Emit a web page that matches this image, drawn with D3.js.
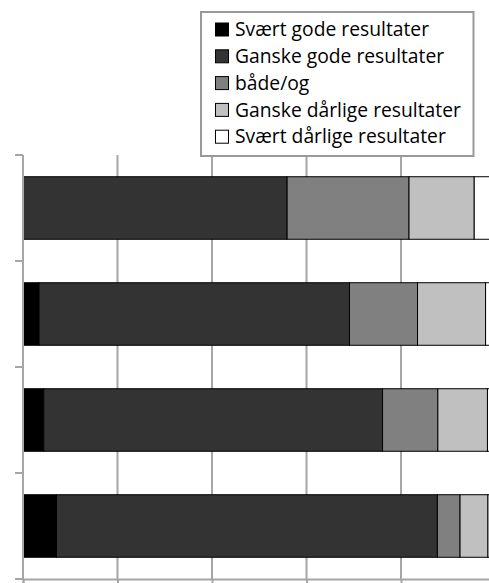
<!DOCTYPE html>
<html>
<head>
<meta charset="utf-8">
<script src="https://cdn.jsdelivr.net/npm/d3@7"></script>
<style>
  html, body { margin: 0; padding: 0; background: #fff; }
  svg { display: block; }
</style>
</head>
<body>
<div id="chart"></div>
<script>
// ---- data ----
const categories = ["Gruppe 1", "Gruppe 2", "Gruppe 3", "Gruppe 4"];
const seriesNames = ["Svært gode resultater", "Ganske gode resultater", "både/og", "Ganske dårlige resultater", "Svært dårlige resultater"];
const svaertGode      = [0,    3.4,  4.4,  7.1];
const ganskeGode      = [55.9, 65.7, 71.7, 80.6];
const baadeOg         = [25.8, 14.4, 11.7, 4.8];
const ganskeDaarlige  = [13.8, 14.4, 10.5, 5.9];
const svaertDaarlige  = [4.5,  2.1,  1.7,  1.6];
const xTicks = [0, 20, 40, 60, 80, 100];
const seriesColors = ["#000000", "#333333", "#808080", "#c0c0c0", "#ffffff"];

const seriesValues = [svaertGode, ganskeGode, baadeOg, ganskeDaarlige, svaertDaarlige];
const table = categories.map((c, i) => {
  const row = { cat: c };
  seriesNames.forEach((s, j) => row[s] = seriesValues[j][i]);
  return row;
});

// ---- layout ----
const W = 489, H = 583;
const svg = d3.select("#chart").append("svg").attr("width", W).attr("height", H);

const x = d3.scaleLinear().domain([0, 100]).range([23, 495.5]);
const y = d3.scaleBand().domain(categories).range([155, 579]).paddingInner(0.41).paddingOuter(0.205);
const color = d3.scaleOrdinal().domain(seriesNames).range(seriesColors);

const gridColor = "#a6a6a6";

// gridlines
svg.append("g").selectAll("line").data(xTicks.slice(1)).join("line")
  .attr("x1", d => x(d)).attr("x2", d => x(d))
  .attr("y1", 155).attr("y2", 579)
  .attr("stroke", gridColor).attr("stroke-width", 2);

// x axis (bottom)
const xAxis = svg.append("g").attr("transform", "translate(0,579)")
  .call(d3.axisBottom(x).tickValues(xTicks).tickSize(5).tickFormat(""));
xAxis.select(".domain").attr("stroke", gridColor).attr("stroke-width", 2);
xAxis.selectAll(".tick line").attr("stroke", gridColor).attr("stroke-width", 2);

// bars
const stack = d3.stack().keys(seriesNames);
const stacked = stack(table);
svg.append("g").selectAll("g").data(stacked).join("g")
  .attr("fill", d => color(d.key))
  .selectAll("rect").data(d => d).join("rect")
  .attr("x", d => x(d[0]))
  .attr("width", d => Math.max(0, x(d[1]) - x(d[0])))
  .attr("y", d => y(d.data.cat))
  .attr("height", y.bandwidth())
  .attr("stroke", "#000").attr("stroke-width", 1);

// y axis (left)
const yAxis = svg.append("g").attr("transform", "translate(23,0)")
  .call(d3.axisLeft(y).tickSize(0).tickFormat(""));
yAxis.select(".domain").remove();
const yBounds = [155].concat(categories.map(c => y(c) - y.step() * y.paddingInner() / 2).slice(1)).concat([579]);
yAxis.append("line").attr("x1", 0).attr("x2", 0).attr("y1", 155).attr("y2", 579)
  .attr("stroke", gridColor).attr("stroke-width", 2);
yAxis.selectAll("line.tk").data(yBounds).join("line").attr("class", "tk")
  .attr("x1", -8).attr("x2", 0).attr("y1", d => d).attr("y2", d => d)
  .attr("stroke", gridColor).attr("stroke-width", 2);

// legend
const lg = svg.append("g");
lg.append("rect").attr("x", 201).attr("y", 12).attr("width", 272.5).attr("height", 144)
  .attr("fill", "#fff").attr("stroke", "#999").attr("stroke-width", 2);
const rowH = 26.8;
const items = lg.selectAll("g.item").data(seriesNames).join("g").attr("class", "item")
  .attr("transform", (d, i) => `translate(215,${29.5 + i * rowH})`);
items.append("rect").attr("x", 0.5).attr("y", -6.5).attr("width", 13).attr("height", 13)
  .attr("fill", d => color(d)).attr("stroke", "#000").attr("stroke-width", 1);
items.append("text").attr("x", 20).attr("y", 0).attr("dy", "0.35em")
  .attr("font-family", "'Open Sans', sans-serif").attr("font-size", 19.3)
  .attr("fill", "#000").text(d => d);
</script>
</body>
</html>
